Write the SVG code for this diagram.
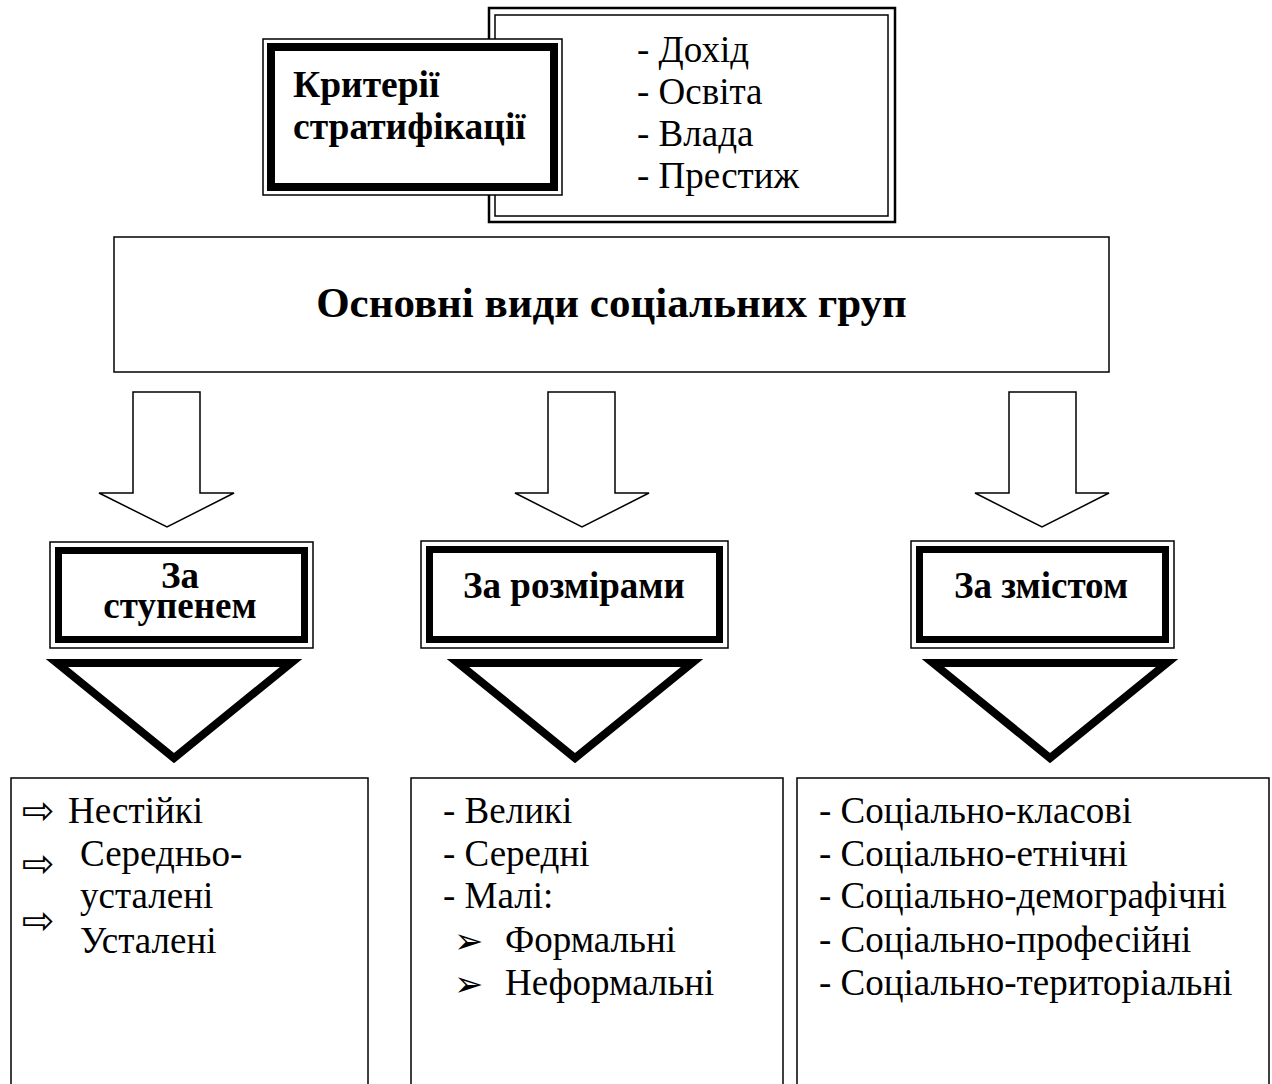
<svg xmlns="http://www.w3.org/2000/svg" width="1272" height="1084" viewBox="0 0 1272 1084">
<style>
.thin{fill:#fff;stroke:#000;stroke-width:1.5}
.thick{fill:none;stroke:#000;stroke-width:7}
.tri{fill:#fff;stroke:#000;stroke-width:8;stroke-linejoin:miter}
.harrow{fill:#fff;stroke:#000;stroke-width:1.5;stroke-linejoin:miter}
.t{font-family:"Liberation Serif","Times New Roman",serif;fill:#000}
.b{font-weight:bold}
.list{font-size:37px}
.lbl{font-size:37px;font-weight:bold;text-anchor:middle}
.sym{font-family:"DejaVu Sans",sans-serif;fill:#000}
.arr{font-size:39px}
.bul{font-size:35px}
</style>
<rect width="1272" height="1084" fill="#fff"/>
<g id="criteria-list">
<rect x="489" y="8" width="406" height="214" fill="#fff" stroke="#000" stroke-width="2.5"/>
<rect x="495" y="15" width="393" height="201" fill="none" stroke="#000" stroke-width="1.5"/>
<text class="t list" x="637" y="62">- Дохід</text>
<text class="t list" x="637" y="104">- Освіта</text>
<text class="t list" x="637" y="146">- Влада</text>
<text class="t list" x="637" y="188">- Престиж</text>
</g>
<g id="criteria">
<rect class="thin" x="263" y="39" width="299" height="156"/>
<rect fill="none" stroke="#000" stroke-width="8" x="271" y="47" width="283" height="140"/>
<text class="t b" font-size="37.5" x="293" y="97">Критерії</text>
<text class="t b" font-size="37.5" x="293" y="139">стратифікації</text>
</g>
<g id="main">
<rect class="thin" stroke-width="2" x="114" y="237" width="995" height="135"/>
<text class="t b" font-size="43" x="611.5" y="317" text-anchor="middle">Основні види соціальних груп</text>
</g>
<g id="connectors">
<path class="harrow" d="M133,392 H200 V493 H234 L167,527 L99,493 H133 Z"/>
<path class="harrow" d="M548,392 H615 V493 H649 L582,527 L515,493 H548 Z"/>
<path class="harrow" d="M1009,392 H1076 V493 H1109 L1042,527 L975,493 H1009 Z"/>
<polygon class="tri" points="57,663 291,663 174,758"/>
<polygon class="tri" points="458,663 692,663 575,758"/>
<polygon class="tri" points="933,663 1167,663 1050,758"/>
</g>
<g id="by-degree">
<rect class="thin" x="50" y="542" width="263" height="106"/>
<rect class="thick" x="58.5" y="550.5" width="246" height="89"/>
<text class="t lbl" x="180" y="588">За</text>
<text class="t lbl" x="180" y="618">ступенем</text>
</g>
<g id="by-size">
<rect class="thin" x="421" y="541" width="307" height="107"/>
<rect class="thick" x="429.5" y="549.5" width="290" height="90"/>
<text class="t lbl" x="574" y="598">За розмірами</text>
</g>
<g id="by-content">
<rect class="thin" x="911" y="541" width="263" height="107"/>
<rect class="thick" x="919.5" y="549.5" width="246" height="90"/>
<text class="t lbl" x="1041" y="598">За змістом</text>
</g>
<g id="degree-list">
<rect class="thin" x="11" y="778" width="357" height="320"/>
<text class="sym arr" x="22" y="824">⇨</text>
<text class="t list" x="68" y="823">Нестійкі</text>
<text class="sym arr" x="22" y="877">⇨</text>
<text class="t list" x="80" y="866">Середньо-</text>
<text class="t list" x="80" y="908">усталені</text>
<text class="sym arr" x="22" y="934">⇨</text>
<text class="t list" x="80" y="953">Усталені</text>
</g>
<g id="size-list">
<rect class="thin" x="411" y="778" width="372" height="320"/>
<text class="t list" x="443" y="823">- Великі</text>
<text class="t list" x="443" y="866">- Середні</text>
<text class="t list" x="443" y="908">- Малі:</text>
<text class="sym bul" x="454" y="953">➢</text>
<text class="t list" x="505" y="952">Формальні</text>
<text class="sym bul" x="454" y="996">➢</text>
<text class="t list" x="505" y="995">Неформальні</text>
</g>
<g id="content-list">
<rect class="thin" x="797" y="778" width="472" height="320"/>
<text class="t list" x="819" y="823">- Соціально-класові</text>
<text class="t list" x="819" y="866">- Соціально-етнічні</text>
<text class="t list" x="819" y="908">- Соціально-демографічні</text>
<text class="t list" x="819" y="952">- Соціально-професійні</text>
<text class="t list" x="819" y="995">- Соціально-територіальні</text>
</g>
</svg>
